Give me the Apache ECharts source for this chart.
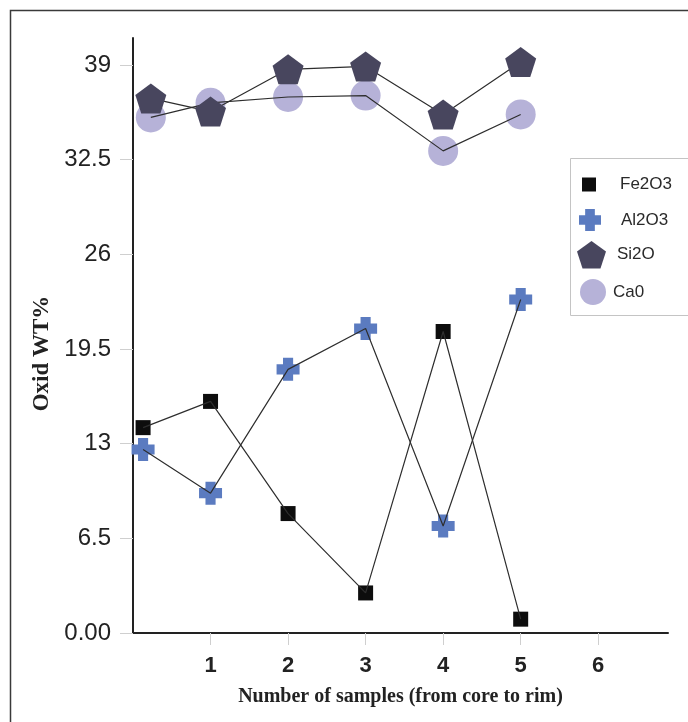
<!DOCTYPE html>
<html>
<head>
<meta charset="utf-8">
<script src="https://cdn.jsdelivr.net/npm/echarts@6/dist/echarts.min.js"></script>
<style>
html,body{margin:0;padding:0;background:#fff;}
#chart{width:688px;height:722px;}
</style>
</head>
<body>
<div id="chart"></div>
<script>
// sample positions along x (from core to rim)
const xInner = [0.13, 1, 2, 3, 4, 5];
const xOuter = [0.23, 1, 2, 3, 4, 5];
const fe2o3 = [14.1, 15.9, 8.2, 2.75, 20.7, 0.95];
const al2o3 = [12.6, 9.6, 18.1, 20.9, 7.35, 22.9];
const si2o  = [36.7, 35.8, 38.7, 38.9, 35.6, 39.2];
const ca0   = [35.4, 36.4, 36.8, 36.9, 33.1, 35.6];
const yTicks = [0, 6.5, 13, 19.5, 26, 32.5, 39];
const xTicks = [1, 2, 3, 4, 5, 6];

const pair = (xs, ys) => ys.map((v, i) => [xs[i], v]);
const PLUS = 'path://M2.8,0 H7.2 V2.8 H10 V7.2 H7.2 V10 H2.8 V7.2 H0 V2.8 H2.8 Z';
const PENT = 'path://M0,-1 L0.951,-0.309 L0.588,0.809 L-0.588,0.809 L-0.951,-0.309 Z';
const LINE_COLOR = '#2e2e2e';

const chart = echarts.init(document.getElementById('chart'));
const lineSeries = (name, data, z) => ({
  name: name + ' line', type: 'line', data, symbol: 'none', z,
  lineStyle: { color: LINE_COLOR, width: 1.2 }, silent: true, animation: false
});
const legendBase = {
  orient: 'vertical', selectedMode: false, padding: 0,
  textStyle: { fontFamily: 'Liberation Sans', fontSize: 17, color: '#2a2a2a' }
};
chart.setOption({
  animation: false,
  backgroundColor: '#ffffff',
  grid: { left: 133, right: 20, top: 38, bottom: 89, containLabel: false },
  xAxis: {
    type: 'value', min: 0, max: 6.9, interval: 1,
    name: 'Number of samples (from core to rim)', nameLocation: 'middle', nameGap: 54,
    nameTextStyle: { fontFamily: 'Liberation Serif', fontWeight: 'bold', fontSize: 20, color: '#222' },
    axisLine: { lineStyle: { color: '#222', width: 2 } },
    axisTick: { show: true, customValues: xTicks, length: 12, lineStyle: { color: '#cfcfcf', width: 1 } },
    axisLabel: { customValues: xTicks, margin: 22, fontFamily: 'Liberation Sans', fontWeight: 'bold', fontSize: 22, color: '#222' },
    splitLine: { show: false }
  },
  yAxis: {
    type: 'value', min: 0, max: 40.85,
    name: 'Oxid WT%', nameLocation: 'middle', nameGap: 73, nameRotate: 90,
    nameTextStyle: { fontFamily: 'Liberation Serif', fontWeight: 'bold', fontSize: 23, color: '#222',
      padding: [0, 36, 0, 0] },
    axisLine: { show: true, lineStyle: { color: '#222', width: 2 } },
    axisTick: { show: true, customValues: yTicks, length: 13, lineStyle: { color: '#cfcfcf', width: 1 } },
    axisLabel: { customValues: yTicks, margin: 22, fontFamily: 'Liberation Sans', fontSize: 24, color: '#222',
      formatter: v => v === 0 ? '0.00' : String(v) },
    splitLine: { show: false }
  },
  legend: [
    Object.assign({}, legendBase, { data: ['Fe2O3'], left: 582, top: 176, itemWidth: 14, itemHeight: 14,
      textStyle: Object.assign({}, legendBase.textStyle, { padding: [0, 0, 0, 19] }) }),
    Object.assign({}, legendBase, { data: ['Al2O3'], left: 579, top: 209, itemWidth: 22, itemHeight: 22,
      textStyle: Object.assign({}, legendBase.textStyle, { padding: [0, 0, 0, 15] }) }),
    Object.assign({}, legendBase, { data: ['Si2O'], left: 577, top: 241, itemWidth: 29, itemHeight: 28,
      textStyle: Object.assign({}, legendBase.textStyle, { padding: [0, 0, 0, 6] }) }),
    Object.assign({}, legendBase, { data: ['Ca0'], left: 580, top: 279, itemWidth: 26, itemHeight: 26,
      textStyle: Object.assign({}, legendBase.textStyle, { padding: [0, 0, 0, 2] }) })
  ],
  graphic: [
    { type: 'rect', z: -10, shape: { x: 10.5, y: 10.5, width: 700, height: 730 },
      style: { fill: 'none', stroke: '#3a3a3a', lineWidth: 1.5 } },
    { type: 'rect', z: -5, shape: { x: 570.5, y: 158.5, width: 130, height: 157 },
      style: { fill: '#fff', stroke: '#c4c4c4', lineWidth: 1 } }
  ],
  series: [
    { name: 'Ca0', type: 'scatter', data: pair(xOuter, ca0), symbol: 'circle', symbolSize: 30, z: 2,
      itemStyle: { color: '#b6b2d8', opacity: 1 } },
    lineSeries('Ca0', pair(xOuter, ca0), 3),
    lineSeries('Si2O', pair(xOuter, si2o), 3),
    { name: 'Si2O', type: 'scatter', data: pair(xOuter, si2o), symbol: PENT, symbolSize: [31, 30], z: 4,
      itemStyle: { color: '#48465e', opacity: 1 } },
    { name: 'Al2O3', type: 'scatter', data: pair(xInner, al2o3), symbol: PLUS, symbolSize: 23, z: 5,
      itemStyle: { color: '#5b7bc0', opacity: 1 } },
    { name: 'Fe2O3', type: 'scatter', data: pair(xInner, fe2o3), symbol: 'rect', symbolSize: 15, z: 5,
      itemStyle: { color: '#0d0d0d', opacity: 1 } },
    lineSeries('Al2O3', pair(xInner, al2o3), 6),
    lineSeries('Fe2O3', pair(xInner, fe2o3), 6)
  ]
});
</script>
</body>
</html>
